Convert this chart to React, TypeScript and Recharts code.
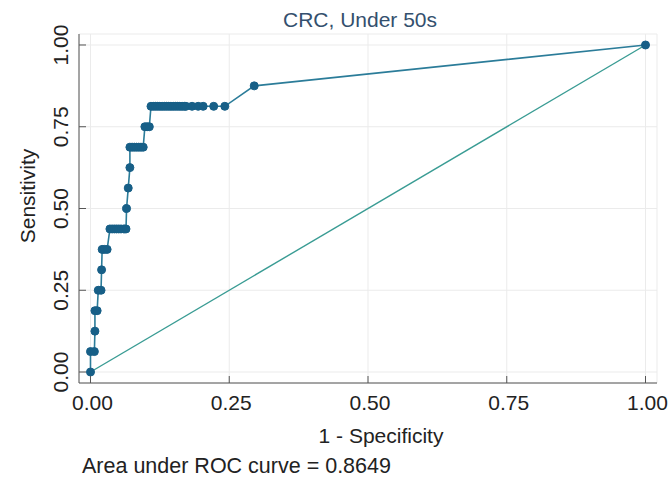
import { LineChart, Line, XAxis, YAxis, CartesianGrid } from "recharts";

// ROC points (1 - specificity, sensitivity)
const rocFpr = [
  0, 0, 0.007, 0.008, 0.008, 0.012, 0.014, 0.019, 0.02, 0.021, 0.025, 0.03,
  0.035, 0.039, 0.043, 0.047, 0.051, 0.055, 0.06, 0.064, 0.065, 0.068, 0.071,
  0.071, 0.075, 0.079, 0.083, 0.087, 0.091, 0.095, 0.098, 0.102, 0.106, 0.109,
  0.113, 0.117, 0.121, 0.125, 0.129, 0.133, 0.137, 0.141, 0.145, 0.149, 0.153,
  0.157, 0.161, 0.165, 0.169, 0.172, 0.183, 0.194, 0.203, 0.222, 0.242, 0.295,
  1,
];
const rocTpr = [
  0, 0.0625, 0.0625, 0.125, 0.1875, 0.1875, 0.25, 0.25, 0.3125, 0.375, 0.375,
  0.375, 0.4375, 0.4375, 0.4375, 0.4375, 0.4375, 0.4375, 0.4375, 0.4375, 0.5,
  0.5625, 0.625, 0.6875, 0.6875, 0.6875, 0.6875, 0.6875, 0.6875, 0.6875, 0.75,
  0.75, 0.75, 0.8125, 0.8125, 0.8125, 0.8125, 0.8125, 0.8125, 0.8125, 0.8125,
  0.8125, 0.8125, 0.8125, 0.8125, 0.8125, 0.8125, 0.8125, 0.8125, 0.8125,
  0.8125, 0.8125, 0.8125, 0.8125, 0.8125, 0.875, 1,
];
const refFpr = [0, 1];
const refTpr = [0, 1];

const ticks = [0, 0.25, 0.5, 0.75, 1];
const tickLabels = ["0.00", "0.25", "0.50", "0.75", "1.00"];

const title = "CRC, Under 50s";
const xTitle = "1 - Specificity";
const yTitle = "Sensitivity";
const note = "Area under ROC curve = 0.8649";

const roc = rocFpr.map((fpr, i) => ({ fpr, tpr: rocTpr[i] }));
const ref = refFpr.map((fpr, i) => ({ fpr, tpr: refTpr[i] }));

const FONT = "'Liberation Sans', Arial, Helvetica, sans-serif";
const AXIS = "#555";

const label = (v: number) => tickLabels[ticks.indexOf(v)] ?? String(v);

function XTick({ x, y, payload }: any) {
  return (
    <g>
      <line x1={x} x2={x} y1={y} y2={y - 7} stroke={AXIS} />
      <text x={x + 2} y={y + 27} textAnchor="middle" fontSize={21} fontFamily={FONT} fill="#222">
        {label(payload.value)}
      </text>
    </g>
  );
}

function YTick({ x, y, payload }: any) {
  const tx = x - 11;
  return (
    <g>
      <line x1={x} x2={x + 7} y1={y} y2={y} stroke={AXIS} />
      <text
        x={tx}
        y={y}
        transform={`rotate(-90, ${tx}, ${y})`}
        textAnchor="middle"
        fontSize={21}
        fontFamily={FONT}
        fill="#222"
      >
        {label(payload.value)}
      </text>
    </g>
  );
}

export default function App() {
  return (
    <div style={{ position: "absolute", left: 0, top: 0, width: 671, height: 479, background: "#fff" }}>
      <LineChart width={671} height={479} margin={{ top: 34, right: 14, bottom: 0, left: 0 }}>
        <CartesianGrid stroke="#ebebeb" />
        <XAxis
          type="number"
          dataKey="fpr"
          domain={[-0.0207, 1.0207]}
          ticks={ticks}
          allowDataOverflow
          interval={0}
          height={96}
          tickSize={0}
          tickMargin={0}
          tickLine={false}
          axisLine={{ stroke: AXIS }}
          tick={(p: any) => <XTick {...p} />}
        />
        <YAxis
          type="number"
          dataKey="tpr"
          domain={[-0.0336, 1.0336]}
          ticks={ticks}
          allowDataOverflow
          interval={0}
          width={79}
          tickSize={0}
          tickMargin={0}
          tickLine={false}
          axisLine={{ stroke: AXIS }}
          tick={(p: any) => <YTick {...p} />}
        />
        <Line
          data={ref}
          dataKey="tpr"
          type="linear"
          stroke="#3a9c94"
          strokeWidth={1.4}
          dot={false}
          isAnimationActive={false}
        />
        <Line
          data={roc}
          dataKey="tpr"
          type="linear"
          stroke="#2b7c99"
          strokeWidth={1.6}
          dot={{ r: 4, fill: "#175f87", stroke: "#175f87", strokeWidth: 1 }}
          isAnimationActive={false}
        />
      </LineChart>
      <svg
        width={671}
        height={479}
        style={{ position: "absolute", left: 0, top: 0, pointerEvents: "none" }}
        fontFamily={FONT}
      >
        <text x={360} y={27} textAnchor="middle" fontSize={21} fill="#34506e">
          {title}
        </text>
        <text x={381} y={443} textAnchor="middle" fontSize={21} fill="#222">
          {xTitle}
        </text>
        <text x={82} y={473} fontSize={21.5} fill="#222">
          {note}
        </text>
        <text x={35} y={196} transform="rotate(-90, 35, 196)" textAnchor="middle" fontSize={21} fill="#222">
          {yTitle}
        </text>
      </svg>
    </div>
  );
}
